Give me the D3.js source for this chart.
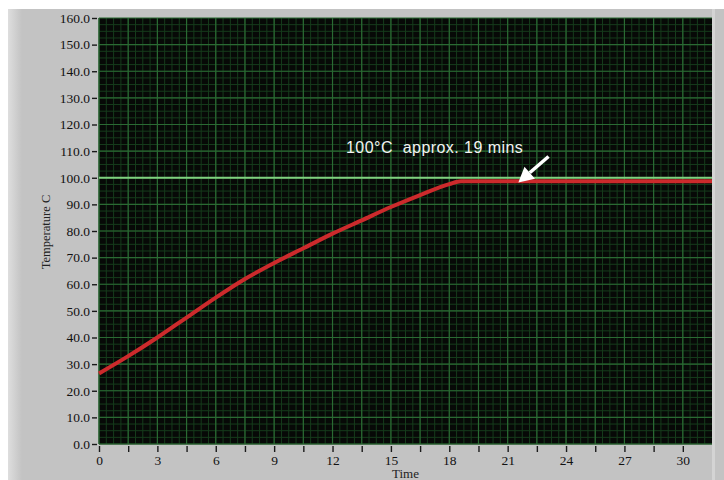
<!DOCTYPE html>
<html>
<head>
<meta charset="utf-8">
<script src="https://cdn.jsdelivr.net/npm/d3@7"></script>
<style>
  html, body { margin: 0; padding: 0; background: #fff; }
  svg { display: block; }
</style>
</head>
<body>
<script>
// time (mins) and temperature readings
var timeMin = [0, 1.5, 3, 4.5, 6, 7.5, 9, 10.5, 12, 13.5, 15, 16.5, 18, 18.6, 20, 25, 31.5];
var tempC   = [26.5, 33, 40, 47.5, 55, 62, 68, 73.5, 79, 84, 89, 93.5, 97.6, 98.7, 98.7, 98.7, 98.7];
var targetTemp = 100;
var xLabelTicks = [0, 3, 6, 9, 12, 15, 18, 21, 24, 27, 30];
var yLabelTicks = [0, 10, 20, 30, 40, 50, 60, 70, 80, 90, 100, 110, 120, 130, 140, 150, 160];
var noteText = "100\u00B0C  approx. 19 mins";

var W = 724, H = 480;
var plot = {left: 99, right: 712, top: 18, bottom: 444};

var svg = d3.select("body").append("svg")
    .attr("width", W)
    .attr("height", H);

// panel background
svg.append("rect").attr("x", 0).attr("y", 0).attr("width", W).attr("height", H).attr("fill", "#fff");
var grad = svg.append("defs").append("linearGradient").attr("id", "edge");
grad.append("stop").attr("offset", "0%").attr("stop-color", "#dedede");
grad.append("stop").attr("offset", "100%").attr("stop-color", "#c3c3c3");
svg.append("rect").attr("x", 8).attr("y", 9).attr("width", W - 8).attr("height", H - 9).attr("fill", "#c3c3c3");
svg.append("rect").attr("x", 8).attr("y", 9).attr("width", 14).attr("height", H - 9).attr("fill", "url(#edge)");
svg.append("rect").attr("x", plot.right).attr("y", 9).attr("width", 3).attr("height", H - 9).attr("fill", "#d4d4d4");

var x = d3.scaleLinear().domain([0, 31.5]).range([plot.left, plot.right]);
var y = d3.scaleLinear().domain([0, 160]).range([plot.bottom, plot.top]);

svg.append("rect")
    .attr("x", plot.left).attr("y", plot.top)
    .attr("width", plot.right - plot.left).attr("height", plot.bottom - plot.top)
    .attr("fill", "#070907");

var grid = svg.append("g");
// minor grid
grid.selectAll(".vmin")
    .data(d3.range(0, 31.5, 0.375))
  .enter().append("line")
    .attr("x1", function(d) { return x(d); }).attr("x2", function(d) { return x(d); })
    .attr("y1", plot.top).attr("y2", plot.bottom)
    .attr("stroke", "#163c1c").attr("stroke-width", 1);
grid.selectAll(".hmin")
    .data(d3.range(0, 160, 2.5))
  .enter().append("line")
    .attr("y1", function(d) { return y(d); }).attr("y2", function(d) { return y(d); })
    .attr("x1", plot.left).attr("x2", plot.right)
    .attr("stroke", "#163c1c").attr("stroke-width", 1);
// major grid
grid.selectAll(".vmaj")
    .data(d3.range(0, 31.5, 1.5))
  .enter().append("line")
    .attr("x1", function(d) { return x(d); }).attr("x2", function(d) { return x(d); })
    .attr("y1", plot.top).attr("y2", plot.bottom)
    .attr("stroke", "#2a6a33").attr("stroke-width", 1.2);
grid.selectAll(".hmaj")
    .data(yLabelTicks)
  .enter().append("line")
    .attr("y1", function(d) { return y(d); }).attr("y2", function(d) { return y(d); })
    .attr("x1", plot.left).attr("x2", plot.right)
    .attr("stroke", "#2a6a33").attr("stroke-width", 1.2);

// axes
var yAxis = svg.append("g")
    .attr("transform", "translate(" + (plot.left - 2) + ",0)")
    .call(d3.axisLeft(y).tickValues(yLabelTicks).tickFormat(d3.format(".1f")).tickSize(5).tickPadding(2));
var xAxis = svg.append("g")
    .attr("transform", "translate(0," + (plot.bottom + 2) + ")")
    .call(d3.axisBottom(x).tickValues(d3.range(0, 31.5, 1.5))
      .tickFormat(function(d) { return xLabelTicks.indexOf(d) >= 0 ? d : ""; })
      .tickSize(6).tickPadding(3));
[yAxis, xAxis].forEach(function(a) {
  a.select(".domain").remove();
  a.selectAll("line").attr("stroke", "#1a1a1a").attr("stroke-width", 1.4);
  a.selectAll("text").attr("fill", "#111")
    .style("font-family", "'Liberation Serif', 'DejaVu Serif', serif").style("font-size", "13.5px");
});

svg.append("text")
    .attr("transform", "translate(50," + ((plot.top + plot.bottom) / 2 + 1) + ") rotate(-90)")
    .attr("text-anchor", "middle")
    .attr("fill", "#222")
    .style("font-family", "'Liberation Serif', serif").style("font-size", "12.5px")
    .text("Temperature C");
svg.append("text")
    .attr("x", (plot.left + plot.right) / 2).attr("y", 478)
    .attr("text-anchor", "middle")
    .attr("fill", "#222")
    .style("font-family", "'Liberation Serif', serif").style("font-size", "13px")
    .text("Time");

// 100 C reference line
svg.append("line")
    .attr("x1", plot.left).attr("x2", plot.right)
    .attr("y1", y(targetTemp)).attr("y2", y(targetTemp))
    .attr("stroke", "#7fd27f").attr("stroke-width", 2);

// temperature trace
var pts = timeMin.map(function(t, i) { return [t, tempC[i]]; });
var line = d3.line()
    .x(function(d) { return x(d[0]); })
    .y(function(d) { return y(d[1]); })
    .curve(d3.curveMonotoneX);
svg.append("path")
    .datum(pts)
    .attr("d", line)
    .attr("fill", "none")
    .attr("stroke", "#cc2a2c")
    .attr("stroke-width", 4);

// annotation
svg.append("text")
    .attr("x", 346).attr("y", 153)
    .attr("fill", "#f2f2f2")
    .attr("xml:space", "preserve")
    .style("white-space", "pre")
    .style("letter-spacing", "0.45px")
    .style("font-family", "'Liberation Sans', Arial, sans-serif").style("font-size", "16px")
    .text(noteText);

var tip = [x(21.55), y(98.2)];
var tail = [x(23.1), y(108)];
var ang = Math.atan2(tip[1] - tail[1], tip[0] - tail[0]);
var hl = 15, hw = 8;
var base = [tip[0] - hl * Math.cos(ang), tip[1] - hl * Math.sin(ang)];
svg.append("line")
    .attr("x1", tail[0]).attr("y1", tail[1])
    .attr("x2", base[0]).attr("y2", base[1])
    .attr("stroke", "#fff").attr("stroke-width", 3.5);
svg.append("path")
    .attr("d", "M" + tip[0] + "," + tip[1] +
      "L" + (base[0] + hw * Math.sin(ang)) + "," + (base[1] - hw * Math.cos(ang)) +
      "L" + (base[0] - hw * Math.sin(ang)) + "," + (base[1] + hw * Math.cos(ang)) + "Z")
    .attr("fill", "#fff");
</script>
</body>
</html>
